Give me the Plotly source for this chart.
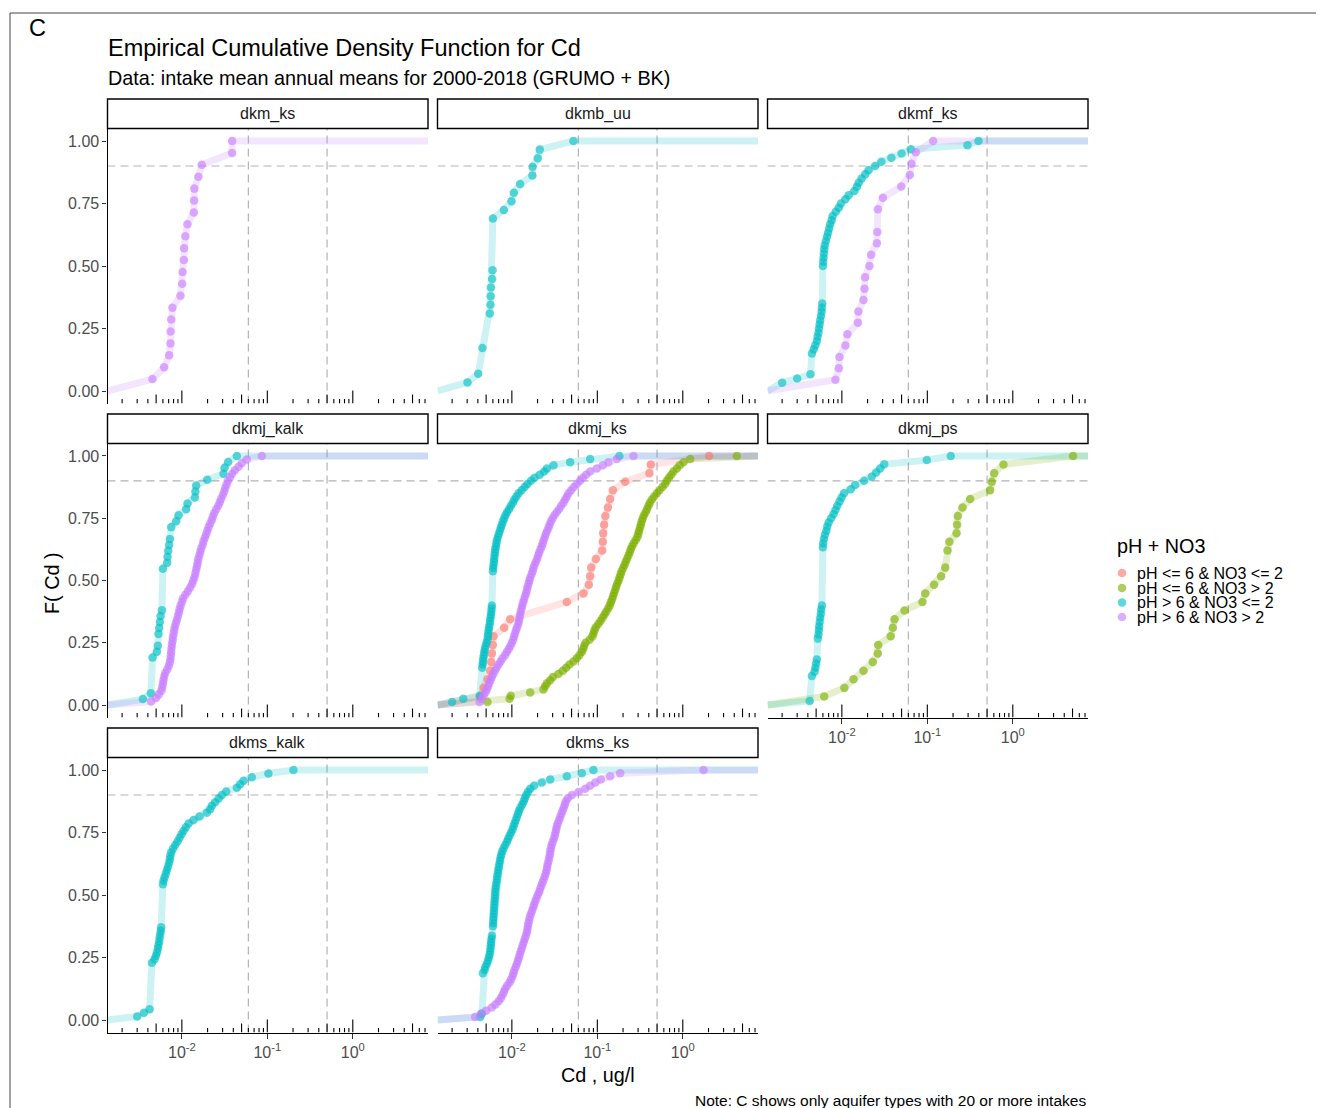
import numpy as np
import plotly.graph_objects as go

# page is 1324x1108; the browser's default 8px body margin offsets the figure,
# so the figure is sized to fill exactly the remaining area.
PAGE_W, PAGE_H = 1324, 1108
OFF = 8
W, H = PAGE_W - OFF, PAGE_H - OFF
FONT = "Liberation Sans, Arial, Helvetica, sans-serif"

# ---------------- categories ----------------
panel_names = ["dkm_ks", "dkmb_uu", "dkmf_ks", "dkmj_kalk", "dkmj_ks",
               "dkmj_ps", "dkms_kalk", "dkms_ks"]
group_labels = ["pH <= 6 & NO3 <= 2", "pH <= 6 & NO3 > 2",
                "pH > 6 & NO3 <= 2", "pH > 6 & NO3 > 2"]
group_colors = [(248, 118, 109), (124, 174, 0), (0, 191, 196), (199, 124, 255)]

# ---------------- data: Cd (ug/l) per intake ----------------
dkm_ks_ph_hi_no3_hi = [0.00453, 0.00621, 0.0071, 0.00736, 0.00738, 0.0075, 0.00776,
                       0.00963, 0.0101, 0.0102, 0.01055, 0.0106, 0.0110, 0.01162,
                       0.0138, 0.0139, 0.0140, 0.0156, 0.0171, 0.0387, 0.0388]

dkmb_uu_ph_hi_no3_lo = [0.00303, 0.00404, 0.00453, 0.00453, 0.00453, 0.00553, 0.00553,
                        0.00553, 0.00553, 0.00562, 0.00565, 0.00568, 0.00588, 0.00595,
                        0.0060, 0.0060, 0.0060, 0.0060, 0.0060, 0.0060, 0.00806, 0.0099,
                        0.01055, 0.0125, 0.0174, 0.0175, 0.0201, 0.0212, 0.0525]

dkmf_ks_ph_hi_no3_lo = [0.0020, 0.0020, 0.0030, 0.0043, 0.00446, 0.00446, 0.00446,
                        0.00446, 0.00446, 0.0047, 0.0049, 0.0051, 0.0052, 0.00533,
                        0.0054, 0.0055, 0.00558, 0.0057, 0.0058, 0.00584, 0.0059,
                        0.0060, 0.0060, 0.0060, 0.0060, 0.0060, 0.0060, 0.0060, 0.0060,
                        0.0060, 0.00605, 0.0061, 0.00615, 0.0062, 0.0063, 0.0065,
                        0.0067, 0.0069, 0.0071, 0.0073, 0.0076, 0.0078, 0.0085, 0.0092,
                        0.0097, 0.0110, 0.0120, 0.0140, 0.0150, 0.0157, 0.0170, 0.0188,
                        0.0205, 0.0245, 0.0290, 0.0380, 0.0500, 0.0640, 0.295, 0.397]
dkmf_ks_ph_hi_no3_hi = [0.00841, 0.00922, 0.00937, 0.0110, 0.0116, 0.0154, 0.0156,
                        0.0179, 0.0184, 0.0187, 0.0210, 0.0220, 0.0257, 0.0260, 0.0264,
                        0.0264, 0.0302, 0.0495, 0.0624, 0.0652, 0.0733, 0.117]

dkmj_kalk_ph_hi_no3_lo = [0.0035, 0.00434, 0.00454, 0.00454, 0.00454, 0.00454, 0.00454,
                          0.00454, 0.0051, 0.00524, 0.00533, 0.00533, 0.00543, 0.00553,
                          0.00563, 0.00584, 0.0060, 0.0060, 0.0060, 0.0060, 0.0060,
                          0.0060, 0.0060, 0.00674, 0.0068, 0.00692, 0.00711, 0.00724,
                          0.0075, 0.0075, 0.00859, 0.00914, 0.01124, 0.01165, 0.0142,
                          0.0144, 0.0147, 0.0198, 0.0307, 0.0316, 0.0348, 0.044]
dkmj_kalk_ph_hi_no3_hi = [0.00437, 0.0050, 0.00538, 0.00578, 0.0059, 0.0060, 0.0061,
                          0.00621, 0.00638, 0.00674, 0.00705, 0.00724, 0.00737, 0.00743,
                          0.0075, 0.00757, 0.00764, 0.00778, 0.00785, 0.0080, 0.00814,
                          0.00828, 0.0085, 0.00875, 0.00898, 0.00922, 0.0094, 0.00965,
                          0.0100, 0.0103, 0.0110, 0.01175, 0.0125, 0.0132, 0.0136, 0.0141,
                          0.0144, 0.0147, 0.0150, 0.0153, 0.0155, 0.0160, 0.0164, 0.0168,
                          0.0175, 0.0179, 0.0186, 0.0193, 0.0198, 0.0205, 0.0214, 0.0224,
                          0.0230, 0.0239, 0.0252, 0.0266, 0.0278, 0.0288, 0.0302, 0.0313,
                          0.0321, 0.0333, 0.0345, 0.0364, 0.0388, 0.0417, 0.046, 0.0504,
                          0.0575, 0.0863]

dkmj_ks_ph_lo_no3_lo = [0.00427, 0.00467, 0.00519, 0.00558, 0.00573, 0.00584, 0.0060,
                        0.0061, 0.00814, 0.00956, 0.044, 0.044, 0.0689, 0.0796, 0.0824,
                        0.0848, 0.0960, 0.114, 0.116, 0.117, 0.120, 0.124, 0.133, 0.141,
                        0.152, 0.212, 0.407, 0.422, 2.03]
dkmj_ks_ph_lo_no3_hi = [0.00519, 0.0094, 0.0097, 0.0164, 0.0234, 0.0245, 0.0257, 0.0281,
                        0.0302, 0.0351, 0.0395, 0.0432, 0.0472, 0.0526, 0.0575, 0.0617,
                        0.0658, 0.0683, 0.0701, 0.0727, 0.081, 0.0877, 0.0901, 0.0926,
                        0.096, 0.1024, 0.109, 0.115, 0.121, 0.127, 0.134, 0.140, 0.144,
                        0.149, 0.153, 0.157, 0.162, 0.166, 0.171, 0.177, 0.182, 0.187,
                        0.192, 0.200, 0.208, 0.215, 0.223, 0.231, 0.239, 0.246, 0.255,
                        0.267, 0.282, 0.295, 0.303, 0.308, 0.317, 0.323, 0.331, 0.340,
                        0.352, 0.369, 0.382, 0.397, 0.411, 0.434, 0.462, 0.497, 0.533,
                        0.578, 0.621, 0.650, 0.687, 0.733, 0.778, 0.851, 0.92, 1.02,
                        1.22, 4.29]
dkmj_ks_ph_hi_no3_lo = [0.0020, 0.0027, 0.0042, 0.0045, 0.0045, 0.0045, 0.0045, 0.0045,
                        0.0045, 0.0045, 0.0045, 0.0045, 0.00455, 0.0046, 0.00463,
                        0.00471, 0.00475, 0.00483, 0.00492, 0.00505, 0.00519, 0.00524,
                        0.00528, 0.00536, 0.00541, 0.0055, 0.00556, 0.00563, 0.0057,
                        0.00576, 0.0058, 0.00584, 0.0060, 0.0060, 0.0060, 0.0060, 0.0060,
                        0.0060, 0.0060, 0.0060, 0.0060, 0.0060, 0.0060, 0.00605, 0.0061,
                        0.00616, 0.00621, 0.00627, 0.00633, 0.00638, 0.0065, 0.0066,
                        0.00668, 0.00686, 0.00705, 0.00724, 0.00743, 0.00764, 0.00785,
                        0.00814, 0.00843, 0.00882, 0.0093, 0.00973, 0.0103, 0.0107,
                        0.0113, 0.0120, 0.0130, 0.0141, 0.0152, 0.0167, 0.0184, 0.0212,
                        0.0239, 0.0257, 0.0307, 0.0481, 0.0824, 0.181]
dkmj_ks_ph_hi_no3_hi = [0.0042, 0.00442, 0.00467, 0.00492, 0.0051, 0.00528, 0.00543,
                        0.00563, 0.00584, 0.00605, 0.00633, 0.00662, 0.0070, 0.00737,
                        0.00778, 0.00836, 0.00875, 0.00922, 0.00965, 0.0100, 0.0104,
                        0.0106, 0.0109, 0.0112, 0.0115, 0.0119, 0.0121, 0.0123, 0.0125,
                        0.0127, 0.0130, 0.0132, 0.0136, 0.0139, 0.0143, 0.0147, 0.0150,
                        0.0153, 0.0157, 0.0160, 0.0164, 0.0170, 0.0175, 0.0179, 0.0184,
                        0.0191, 0.0198, 0.0203, 0.0209, 0.0216, 0.0224, 0.0230, 0.0236,
                        0.0243, 0.0250, 0.0259, 0.0269, 0.0276, 0.0286, 0.0300, 0.0316,
                        0.0336, 0.0358, 0.0378, 0.0402, 0.0421, 0.044, 0.046, 0.0494,
                        0.053, 0.0575, 0.0629, 0.0676, 0.074, 0.0824, 0.0986, 0.116,
                        0.135, 0.169, 0.265]

dkmj_ps_ph_lo_no3_hi = [0.00621, 0.0107, 0.0137, 0.0179, 0.0230, 0.0263, 0.0266, 0.0373,
                        0.0395, 0.0413, 0.0541, 0.0877, 0.0945, 0.120, 0.145, 0.162,
                        0.172, 0.172, 0.181, 0.220, 0.223, 0.227, 0.258, 0.317, 0.543,
                        0.567, 0.605, 0.778, 5.07]
dkmj_ps_ph_hi_no3_lo = [0.0042, 0.00446, 0.00446, 0.00446, 0.00446, 0.00446, 0.00446,
                        0.0048, 0.0049, 0.0050, 0.0051, 0.00524, 0.00524, 0.00524,
                        0.00524, 0.00524, 0.00533, 0.00538, 0.00543, 0.0055, 0.00558,
                        0.00568, 0.00573, 0.00584, 0.0060, 0.0060, 0.0060, 0.0060,
                        0.0060, 0.0060, 0.0060, 0.0060, 0.0060, 0.0060, 0.0060, 0.0060,
                        0.0060, 0.0060, 0.00605, 0.00616, 0.00633, 0.0066, 0.00674,
                        0.0070, 0.0075, 0.0080, 0.00843, 0.00882, 0.0094, 0.0099, 0.0106,
                        0.0127, 0.0143, 0.0182, 0.0224, 0.0252, 0.0281, 0.0313, 0.0986,
                        0.188]

dkms_kalk_ph_hi_no3_lo = [0.0030, 0.0036, 0.0042, 0.00446, 0.00446, 0.00446, 0.00446,
                          0.00446, 0.00446, 0.00446, 0.00446, 0.00446, 0.00446, 0.00446,
                          0.00446, 0.00446, 0.0048, 0.00497, 0.00514, 0.00524, 0.00533,
                          0.00543, 0.0055, 0.00558, 0.00568, 0.00573, 0.0060, 0.0060,
                          0.0060, 0.0060, 0.0060, 0.0060, 0.0060, 0.0060, 0.0060, 0.0060,
                          0.0060, 0.0060, 0.0061, 0.00627, 0.0065, 0.00668, 0.0069,
                          0.0071, 0.00724, 0.00731, 0.0075, 0.0079, 0.00836, 0.0089,
                          0.0094, 0.0099, 0.01046, 0.0111, 0.0120, 0.0137, 0.0161, 0.0196,
                          0.0214, 0.0224, 0.0245, 0.0269, 0.0293, 0.0330, 0.0440, 0.0481,
                          0.0526, 0.0658, 0.103, 0.202]

dkms_ks_ph_hi_no3_lo = [0.00427, 0.00446, 0.00458, 0.00458, 0.00458, 0.00458, 0.00458,
                        0.00458, 0.00458, 0.00458, 0.00458, 0.00458, 0.00458, 0.00458,
                        0.00458, 0.0048, 0.0049, 0.0051, 0.00528, 0.00538, 0.0055,
                        0.00558, 0.00563, 0.00568, 0.00573, 0.00578, 0.00584, 0.0060,
                        0.0060, 0.0060, 0.00605, 0.00608, 0.0061, 0.00613, 0.00616,
                        0.00621, 0.00624, 0.00627, 0.00633, 0.00636, 0.00638, 0.00644,
                        0.0065, 0.0066, 0.00668, 0.00674, 0.00686, 0.00692, 0.00705,
                        0.00714, 0.00727, 0.00737, 0.00754, 0.00771, 0.0080, 0.00836,
                        0.00875, 0.00906, 0.0094, 0.0098, 0.0102, 0.01046, 0.0108,
                        0.0111, 0.01144, 0.0118, 0.0121, 0.0126, 0.0132, 0.0138, 0.0142,
                        0.0147, 0.0154, 0.0164, 0.0182, 0.0224, 0.0281, 0.044, 0.0658,
                        0.090]
dkms_ks_ph_hi_no3_hi = [0.00372, 0.00434, 0.0050, 0.00584, 0.00644, 0.0070, 0.00743,
                        0.00778, 0.00807, 0.00836, 0.00882, 0.0094, 0.0098, 0.0102,
                        0.01046, 0.0107, 0.0111, 0.01144, 0.0118, 0.0121, 0.0124, 0.0127,
                        0.0131, 0.0134, 0.0138, 0.0142, 0.0146, 0.0150, 0.0152, 0.0154,
                        0.0156, 0.0159, 0.0162, 0.0167, 0.0172, 0.0178, 0.0182, 0.0188,
                        0.0194, 0.0201, 0.0209, 0.0214, 0.0222, 0.0228, 0.0236, 0.0243,
                        0.0250, 0.0255, 0.0259, 0.0263, 0.0269, 0.0274, 0.0279, 0.0281,
                        0.0286, 0.0291, 0.0300, 0.0310, 0.0318, 0.0324, 0.0330, 0.0336,
                        0.0345, 0.0358, 0.0367, 0.0381, 0.0392, 0.0406, 0.0417, 0.0428,
                        0.0452, 0.0503, 0.0603, 0.0721, 0.0824, 0.0945, 0.110, 0.141,
                        0.185, 1.75]

# (panel, group index, values)
series = [
    ("dkm_ks", 3, dkm_ks_ph_hi_no3_hi),
    ("dkmb_uu", 2, dkmb_uu_ph_hi_no3_lo),
    ("dkmf_ks", 2, dkmf_ks_ph_hi_no3_lo),
    ("dkmf_ks", 3, dkmf_ks_ph_hi_no3_hi),
    ("dkmj_kalk", 2, dkmj_kalk_ph_hi_no3_lo),
    ("dkmj_kalk", 3, dkmj_kalk_ph_hi_no3_hi),
    ("dkmj_ks", 0, dkmj_ks_ph_lo_no3_lo),
    ("dkmj_ks", 1, dkmj_ks_ph_lo_no3_hi),
    ("dkmj_ks", 2, dkmj_ks_ph_hi_no3_lo),
    ("dkmj_ks", 3, dkmj_ks_ph_hi_no3_hi),
    ("dkmj_ps", 1, dkmj_ps_ph_lo_no3_hi),
    ("dkmj_ps", 2, dkmj_ps_ph_hi_no3_lo),
    ("dkms_kalk", 2, dkms_kalk_ph_hi_no3_lo),
    ("dkms_ks", 2, dkms_ks_ph_hi_no3_lo),
    ("dkms_ks", 3, dkms_ks_ph_hi_no3_hi),
]

# ---------------- axes / reference values ----------------
x_log_range = [-2.87, 0.88]
y_range = [-0.05, 1.05]
ref_x = [0.06, 0.5]
ref_y = 0.9
x_tickvals = [0.01, 0.1, 1]
x_ticktext = ["10<sup>-2</sup>", "10<sup>-1</sup>", "10<sup>0</sup>"]
y_tickvals = [0, 0.25, 0.5, 0.75, 1]
y_ticktext = ["0.00", "0.25", "0.50", "0.75", "1.00"]

# layout geometry (page pixels)
col_px = [(107.5, 428.0), (437.5, 758.0), (767.5, 1088.0)]
row_px = [(128.5, 403.5), (443.5, 717.5), (757.5, 1032.5)]
strip_h = 29.5


def px_x(p):
    return (p - OFF) / W


def px_y(p):
    return 1 - (p - OFF) / H


def rgba(c, a):
    return "rgba(%d,%d,%d,%.3f)" % (c[0], c[1], c[2], a)


def ecdf(vals):
    v = np.sort(np.asarray(vals, dtype=float))
    ux = np.unique(v)
    F = np.searchsorted(v, ux, side="right") / len(v)
    return ux.tolist(), F.tolist()


x_left = 10 ** x_log_range[0]
x_right = 10 ** x_log_range[1]
y_per_px = (y_range[1] - y_range[0]) / (row_px[0][1] - row_px[0][0])

fig = go.Figure()
layout_axes = {}
shapes = []
annotations = []

for k, name in enumerate(panel_names):
    r, c = divmod(k, 3)
    sfx = "" if k == 0 else str(k + 1)
    xref, yref = "x" + sfx, "y" + sfx
    x0, x1 = col_px[c]
    y0, y1 = row_px[r]
    bottom = k >= 5
    left = c == 0

    layout_axes["xaxis" + sfx] = dict(
        domain=[px_x(x0), px_x(x1)], anchor=yref, type="log",
        range=x_log_range, showgrid=False, zeroline=False,
        showline=bottom, linecolor="black", linewidth=1.1,
        ticks="outside" if bottom else "", ticklen=5, tickwidth=1.1,
        tickcolor="#333333", tickvals=x_tickvals, ticktext=x_ticktext,
        showticklabels=bottom, tickfont=dict(family=FONT, size=16, color="#4D4D4D"),
        fixedrange=True)
    layout_axes["yaxis" + sfx] = dict(
        domain=[px_y(y1), px_y(y0)], anchor=xref, range=y_range,
        showgrid=False, zeroline=False,
        showline=left, linecolor="black", linewidth=1.1,
        ticks="outside" if left else "", ticklen=4, tickwidth=1.1,
        tickcolor="#333333", tickvals=y_tickvals, ticktext=y_ticktext,
        showticklabels=left, tickfont=dict(family=FONT, size=16, color="#4D4D4D"),
        fixedrange=True)

    # reference dashed lines
    fig.add_trace(go.Scatter(
        x=[ref_x[0], ref_x[0], None, ref_x[1], ref_x[1], None, x_left, x_right],
        y=[y_range[0], y_range[1], None, y_range[0], y_range[1], None, ref_y, ref_y],
        mode="lines", line=dict(color="#B3B3B3", width=1.2, dash="8px,5px"),
        xaxis=xref, yaxis=yref, hoverinfo="skip", showlegend=False))

    # log ticks along bottom
    lx, ly = [], []
    for d in range(-3, 1):
        for m in range(1, 10):
            v = m * 10.0 ** d
            lv = np.log10(v)
            if lv < x_log_range[0] or lv > x_log_range[1]:
                continue
            L = 13 if m == 1 else (9 if m == 5 else 4.5)
            lx += [v, v, None]
            ly += [y_range[0], y_range[0] + L * y_per_px, None]
    fig.add_trace(go.Scatter(x=lx, y=ly, mode="lines",
                             line=dict(color="black", width=1.1),
                             xaxis=xref, yaxis=yref, hoverinfo="skip", showlegend=False))

    panel_series = [s for s in series if s[0] == name]
    # ECDF lines (padded to panel edges)
    for _, g, vals in panel_series:
        ux, F = ecdf(vals)
        fig.add_trace(go.Scatter(
            x=[x_left] + ux + [x_right], y=[0.0] + F + [1.0], mode="lines",
            line=dict(color=rgba(group_colors[g], 0.2), width=7),
            xaxis=xref, yaxis=yref, hoverinfo="skip", showlegend=False))
    # ECDF points
    for _, g, vals in panel_series:
        ux, F = ecdf(vals)
        fig.add_trace(go.Scatter(
            x=ux, y=F, mode="markers",
            marker=dict(color=rgba(group_colors[g], 0.62), size=8.5, line=dict(width=0)),
            xaxis=xref, yaxis=yref, name=group_labels[g], showlegend=False,
            cliponaxis=False))

    # strip
    shapes.append(dict(type="rect", xref="paper", yref="paper",
                       x0=px_x(x0), x1=px_x(x1), y0=px_y(y0), y1=px_y(y0 - strip_h),
                       line=dict(color="black", width=1.4), fillcolor="white"))
    annotations.append(dict(text=name, xref="paper", yref="paper",
                            x=px_x((x0 + x1) / 2), y=px_y(y0 - strip_h / 2),
                            xanchor="center", yanchor="middle", showarrow=False,
                            font=dict(family=FONT, size=16, color="#1A1A1A")))

# frame lines (top and left)
shapes.append(dict(type="line", xref="paper", yref="paper", x0=px_x(10), x1=1,
                   y0=px_y(13), y1=px_y(13), line=dict(color="#444444", width=1)))
shapes.append(dict(type="line", xref="paper", yref="paper", x0=px_x(10), x1=px_x(10),
                   y0=px_y(13), y1=0, line=dict(color="#444444", width=1)))


def add_text(text, px, py, size, xanchor="left", color="black", angle=0):
    annotations.append(dict(text=text, xref="paper", yref="paper", x=px_x(px), y=px_y(py),
                            xanchor=xanchor, yanchor="middle", showarrow=False,
                            textangle=angle, font=dict(family=FONT, size=size, color=color)))


add_text("C", 27, 28, 23.5)
add_text("Empirical Cumulative Density Function for Cd", 106, 48, 23.5)
add_text("Data: intake mean annual means for 2000-2018 (GRUMO + BK)", 106, 78, 19.8)
add_text("F( Cd )", 52, 583, 19.8, xanchor="center", angle=-90)
add_text("Cd , ug/l", 597.5, 1075, 19.8, xanchor="center")
add_text("Note: C shows only aquifer types with 20 or more intakes", 1088, 1100, 15.5,
         xanchor="right")

# legend (manual, to match key spacing)
add_text("pH + NO3", 1115, 546, 19.8)
leg_y = [573, 588, 602.5, 617]
for g, lab in enumerate(group_labels):
    cy = leg_y[g]
    rr = 4.3
    shapes.append(dict(type="circle", xref="paper", yref="paper",
                       x0=px_x(1122 - rr), x1=px_x(1122 + rr),
                       y0=px_y(cy + rr), y1=px_y(cy - rr),
                       fillcolor=rgba(group_colors[g], 0.62), line=dict(width=0)))
    add_text(lab, 1135, cy, 16)

fig.update_layout(
    width=W, height=H, margin=dict(l=0, r=0, t=0, b=0),
    paper_bgcolor="white", plot_bgcolor="white",
    showlegend=False, hovermode=False,
    font=dict(family=FONT, size=16, color="black"),
    shapes=shapes, annotations=annotations,
    **layout_axes)

fig.write_html("out.html")
